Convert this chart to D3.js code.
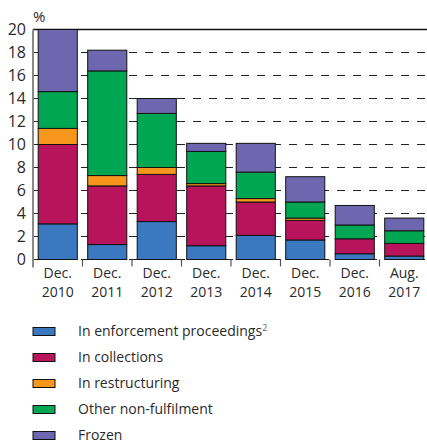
<!DOCTYPE html>
<html>
<head>
<meta charset="utf-8">
<script src="https://cdn.jsdelivr.net/npm/d3@7"></script>
<style>
  body { margin: 0; background: #fff; }
  text { font-family: "Open Sans", "Noto Sans", sans-serif; fill: #2a2a2a; }
</style>
</head>
<body>
<div id="chart"></div>
<script>
let width = 427;
let height = 445;
let margin = ({top: 29.5, right: -2, bottom: 185.5, left: 33});

// values in %
let dates = ["Dec. 2010", "Dec. 2011", "Dec. 2012", "Dec. 2013", "Dec. 2014", "Dec. 2015", "Dec. 2016", "Aug. 2017"];
let enforcement = [3.1, 1.3, 3.3, 1.2, 2.1, 1.7, 0.5, 0.3];
let collections = [6.9, 5.1, 4.1, 5.2, 2.9, 1.7, 1.3, 1.1];
let restructuring = [1.4, 0.9, 0.6, 0.2, 0.3, 0.2, 0.0, 0.0];
let otherNonFulfilment = [3.2, 9.1, 4.7, 2.8, 2.3, 1.4, 1.2, 1.1];
let frozen = [5.4, 1.8, 1.3, 0.7, 2.5, 2.2, 1.7, 1.1];
let yTicks = [0, 2, 4, 6, 8, 10, 12, 14, 16, 18, 20];

let seriesNames = ["In enforcement proceedings", "In collections", "In restructuring", "Other non-fulfilment", "Frozen"];
let colors = ["#3a78bf", "#b8145c", "#f7961d", "#00a651", "#6e67b0"];

let keys = ["enf", "col", "res", "oth", "fro"];
let table = dates.map((d, i) => ({
    date: d, enf: enforcement[i], col: collections[i], res: restructuring[i],
    oth: otherNonFulfilment[i], fro: frozen[i]
}));
let stacked = d3.stack().keys(keys)(table);

let x = d3.scaleBand()
    .domain(dates)
    .range([margin.left, width - margin.right])
    .paddingInner(0.21)
    .paddingOuter(0.105);
let y = d3.scaleLinear()
    .domain([0, 20])
    .range([height - margin.bottom, margin.top]);

let svg = d3.select("#chart").append("svg")
    .attr("width", width)
    .attr("height", height);

// dashed grid behind the bars
svg.append("g")
    .selectAll("line")
    .data(yTicks.filter(t => t < 20))
    .join("line")
    .attr("x1", margin.left)
    .attr("x2", width)
    .attr("y1", d => y(d))
    .attr("y2", d => y(d))
    .attr("stroke", "#222")
    .attr("stroke-width", 1.2)
    .attr("stroke-dasharray", "8,8");

// solid top line
svg.append("line")
    .attr("x1", margin.left).attr("x2", width)
    .attr("y1", y(20)).attr("y2", y(20))
    .attr("stroke", "#111").attr("stroke-width", 1.5);

// bars
svg.append("g")
    .selectAll("g")
    .data(stacked)
    .join("g")
    .attr("fill", (d, i) => colors[i])
    .selectAll("rect")
    .data(d => d.filter(s => s[1] - s[0] > 0))
    .join("rect")
    .attr("x", d => x(d.data.date))
    .attr("y", d => y(d[1]))
    .attr("width", x.bandwidth())
    .attr("height", d => y(d[0]) - y(d[1]))
    .attr("stroke", "#111")
    .attr("stroke-width", 1);

// y axis
svg.append("line")
    .attr("x1", margin.left).attr("x2", margin.left)
    .attr("y1", y(20)).attr("y2", y(0) + 8)
    .attr("stroke", "#8a8a8a").attr("stroke-width", 2);

svg.append("g")
    .attr("text-anchor", "end")
    .attr("font-size", 16)
    .selectAll("text")
    .data(yTicks)
    .join("text")
    .attr("x", 26)
    .attr("y", d => y(d))
    .attr("dy", "0.36em")
    .text(d => d);

svg.append("text")
    .attr("x", margin.left)
    .attr("y", 22)
    .attr("font-size", 15)
    .text("%");

// x ticks at band edges
let edges = dates.slice(1).map(d => x(d) - (x.step() - x.bandwidth()) / 2);
svg.append("g")
    .selectAll("line")
    .data(edges)
    .join("line")
    .attr("x1", d => d).attr("x2", d => d)
    .attr("y1", y(0)).attr("y2", y(0) + 7)
    .attr("stroke", "#555").attr("stroke-width", 1.2);

let xLabels = svg.append("g")
    .attr("text-anchor", "middle")
    .attr("font-size", 14)
    .selectAll("text")
    .data(dates)
    .join("text")
    .attr("x", d => x(d) + x.bandwidth() / 2);
xLabels.append("tspan")
    .attr("x", d => x(d) + x.bandwidth() / 2)
    .attr("y", 278)
    .text(d => d.split(" ")[0]);
xLabels.append("tspan")
    .attr("x", d => x(d) + x.bandwidth() / 2)
    .attr("y", 297)
    .text(d => d.split(" ")[1]);

// legend
let legend = svg.append("g")
    .selectAll("g")
    .data(seriesNames)
    .join("g")
    .attr("transform", (d, i) => `translate(33,${331.5 + i * 26})`);
legend.append("rect")
    .attr("x", 0).attr("y", -4)
    .attr("width", 22).attr("height", 8)
    .attr("fill", (d, i) => colors[i])
    .attr("stroke", "#111").attr("stroke-width", 1);
let lt = legend.append("text")
    .attr("x", 45)
    .attr("y", 0)
    .attr("dy", "0.34em")
    .attr("font-size", 14)
    .text(d => d);
lt.filter((d, i) => i === 0)
    .append("tspan")
    .attr("font-size", 9)
    .attr("fill", "#666")
    .attr("dy", "-0.6em")
    .text("2");
</script>
</body>
</html>
